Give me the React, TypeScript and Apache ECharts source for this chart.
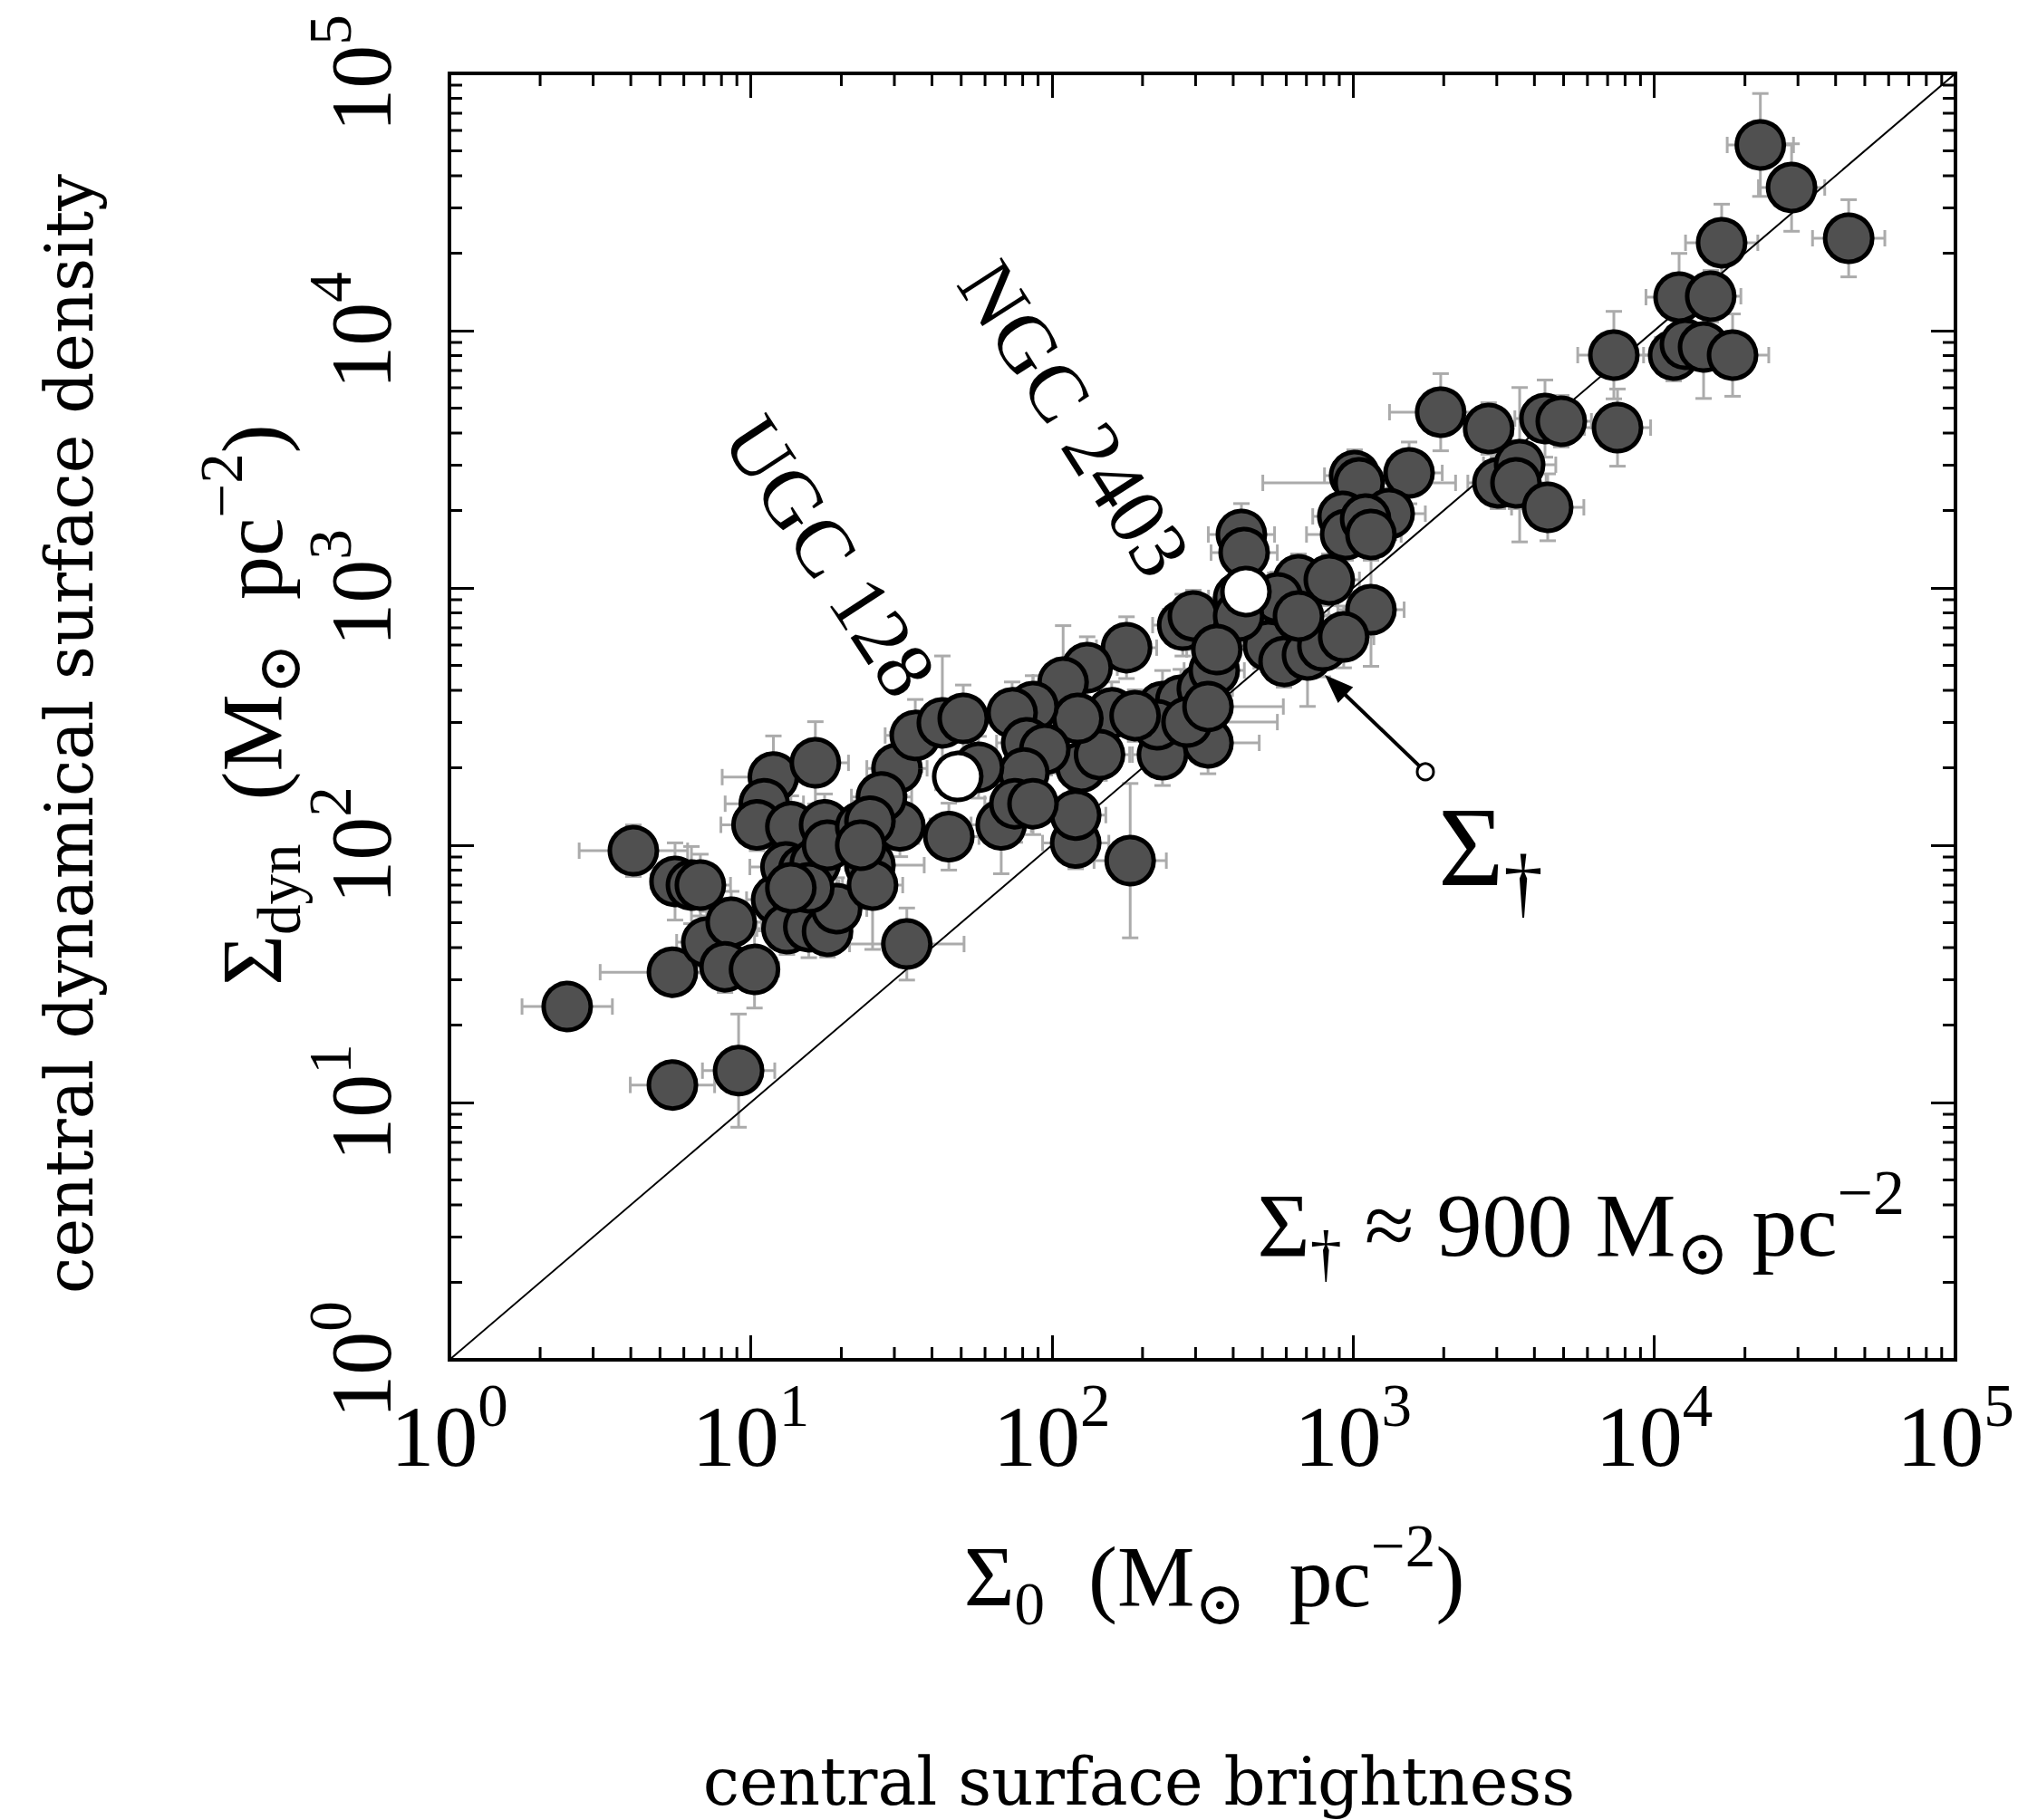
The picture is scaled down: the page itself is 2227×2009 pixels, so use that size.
import React, { useEffect, useRef } from "react";
import * as echarts from "echarts";

// ---------- axis definitions ----------
const AXIS_MIN = 1;
const AXIS_MAX = 100000;
const MINOR_MULTIPLIERS = [2, 3, 4, 5, 6, 7, 8, 9];
const DECADES = [1, 10, 100, 1000, 10000];

// ---------- data (central surface brightness Σ0 vs central dynamical surface density Σdyn) ----------
const SIGMA_0 = [
  2.46, 5.5, 9.12, 4.08, 5.5, 5.61, 6.36, 6.81, 7.15, 8.62,
  8.22, 10.3, 33.0, 11.9, 16.4, 11.1, 10.5, 12.2, 13.2, 15.6,
  18.0, 19.3, 13.6, 17.6, 13.1, 15.0, 16.4, 15.6, 13.6, 18.0,
  24.9, 25.4, 23.2, 30.6, 31.3, 27.2, 24.9, 35.2, 43.3, 50.8,
  45.5, 23.2, 67.9, 120, 120, 182, 177, 131, 109, 158,
  125, 144, 122, 86.6, 73.8, 82.5, 94.8, 80.8, 75.4, 86.6,
  57.1, 272, 295, 233, 268, 316, 346, 330, 233, 224,
  281, 189, 417, 1954, 2820, 4337, 4913, 7343, 7550, 3027,
  3573, 3475, 4428, 1535, 1012, 1048, 1318, 925, 945, 1101,
  1147, 426, 435, 659, 834, 1147, 562, 524, 590, 706,
  794, 931, 659, 417, 353, 330, 22500, 28570, 44200, 16740,
  12090, 15400, 11600, 12690, 14580, 18200,
];
const SIGMA_DYN = [
  23.6, 11.7, 13.3, 95.2, 32.1, 72.3, 70.0, 70.0, 42.0, 50.2,
  33.7, 32.9, 41.3, 184, 209, 145, 120, 61.5, 47.4, 48.2,
  46.3, 56.7, 118, 120, 82.3, 80.3, 85.0, 68.3, 68.3, 100,
  83.7, 70.0, 118, 199, 119, 154, 124, 267, 299, 311,
  108, 100, 120, 102, 131, 87.1, 586, 490, 430, 327,
  201, 225, 311, 346, 327, 250, 236, 191, 145, 145,
  201, 717, 778, 346, 366, 406, 478, 250, 225, 294,
  301, 319, 915, 4820, 4166, 4553, 4446, 8035, 4200, 2561,
  3013, 2561, 2058, 2800, 2734, 2561, 1944, 1897, 1614, 1852,
  1614, 1614, 1372, 1076, 1076, 823, 915, 595, 518, 549,
  595, 645, 778, 778, 576, 346, 52700, 36000, 22860, 21960,
  13500, 13610, 8035, 8850, 8640, 8035,
];
// symmetric uncertainties in dex
const X_ERR_DEX = [
  0.15, 0.14, 0.12, 0.18, 0.24, 0.08, 0.1, 0.1, 0.1, 0.1,
  0.1, 0.08, 0.19, 0.17, 0.11, 0.13, 0.12, 0.1, 0.1, 0.1,
  0.08, 0.1, 0.1, 0.1, 0.12, 0.1, 0.1, 0.1, 0.1, 0.12,
  0.18, 0.1, 0.1, 0.1, 0.1, 0.1, 0.1, 0.1, 0.1, 0.1,
  0.1, 0.1, 0.1, 0.11, 0.1, 0.12, 0.1, 0.1, 0.1, 0.1,
  0.1, 0.1, 0.1, 0.1, 0.12, 0.1, 0.1, 0.12, 0.1, 0.14,
  0.1, 0.1, 0.1, 0.1, 0.1, 0.1, 0.1, 0.17, 0.1, 0.1,
  0.3, 0.1, 0.1, 0.17, 0.08, 0.1, 0.1, 0.12, 0.11, 0.1,
  0.12, 0.1, 0.12, 0.11, 0.1, 0.32, 0.12, 0.1, 0.13, 0.1,
  0.1, 0.11, 0.11, 0.1, 0.1, 0.11, 0.1, 0.1, 0.1, 0.1,
  0.1, 0.1, 0.1, 0.1, 0.1, 0.25, 0.11, 0.11, 0.12, 0.12,
  0.11, 0.1, 0.1, 0.1, 0.12, 0.12,
];
const Y_ERR_DEX = [
  0.06, 0.06, 0.22, 0.1, 0.08, 0.15, 0.15, 0.12, 0.12, 0.12,
  0.1, 0.15, 0.14, 0.16, 0.16, 0.1, 0.1, 0.12, 0.1, 0.12,
  0.1, 0.12, 0.12, 0.12, 0.1, 0.1, 0.1, 0.14, 0.1, 0.1,
  0.12, 0.25, 0.1, 0.14, 0.12, 0.1, 0.1, 0.14, 0.26, 0.13,
  0.13, 0.1, 0.19, 0.1, 0.1, 0.3, 0.12, 0.12, 0.22, 0.12,
  0.12, 0.1, 0.12, 0.12, 0.12, 0.1, 0.1, 0.12, 0.15, 0.12,
  0.12, 0.12, 0.1, 0.14, 0.12, 0.1, 0.1, 0.12, 0.12, 0.12,
  0.12, 0.1, 0.12, 0.15, 0.1, 0.15, 0.1, 0.17, 0.15, 0.1,
  0.3, 0.1, 0.13, 0.12, 0.1, 0.1, 0.1, 0.1, 0.1, 0.1,
  0.1, 0.12, 0.1, 0.1, 0.1, 0.22, 0.1, 0.1, 0.1, 0.2,
  0.12, 0.12, 0.1, 0.1, 0.1, 0.1, 0.2, 0.17, 0.15, 0.15,
  0.17, 0.1, 0.1, 0.1, 0.2, 0.16,
];

const NAMED_GALAXIES = ["UGC 128", "NGC 2403"];
const NAMED_SIGMA_0 = [48.7, 441];
const NAMED_SIGMA_DYN = [185, 968];

const ONE_TO_ONE_X = [1, 100000];
const ONE_TO_ONE_Y = [1, 100000];

// annotation anchors (data coordinates)
const ARROW_TAIL = [1738, 193];
const ARROW_HEAD = [805, 459];

// ---------- styling ----------
const MATH_FONT = "'Liberation Serif', 'DejaVu Serif', serif";
const TEXT_FONT = "'DejaVu Serif', serif";
const MAJOR_LEN = 27;
const MINOR_LEN = 14;
const TICK_W = 3;
const LABEL_SIZE = 96;

function mathRich(size: number) {
  const small = Math.round(size * 0.7);
  return {
    m: { fontFamily: MATH_FONT, fontSize: size, lineHeight: size, color: "#000", verticalAlign: "middle" },
    sb: {
      fontFamily: MATH_FONT,
      fontSize: small,
      lineHeight: 10,
      color: "#000",
      verticalAlign: "middle",
      padding: [Math.round(size * 0.62), 0, 0, 0],
    },
    sp: {
      fontFamily: MATH_FONT,
      fontSize: small,
      lineHeight: 10,
      color: "#000",
      verticalAlign: "middle",
      padding: [0, 0, Math.round(size * 0.72), 0],
    },
  };
}

const labelRich = mathRich(LABEL_SIZE);

function tickFormatter(v: number) {
  const e = Math.round(Math.log10(v));
  return `{m|10}{sp|${e}}`;
}

export default function App() {
  const ref = useRef<HTMLDivElement>(null);

  useEffect(() => {
    const el = ref.current;
    if (!el) return;
    const chart = echarts.init(el, null, { renderer: "svg" });

    const minorTicks: number[] = [];
    DECADES.forEach((d) => MINOR_MULTIPLIERS.forEach((m) => minorTicks.push(m * d)));

    const points = SIGMA_0.map((x, i) => [x, SIGMA_DYN[i]]);
    const errRows = SIGMA_0.map((x, i) => [x, SIGMA_DYN[i], X_ERR_DEX[i], Y_ERR_DEX[i]]);
    const named = NAMED_SIGMA_0.map((x, i) => ({ name: NAMED_GALAXIES[i], value: [x, NAMED_SIGMA_DYN[i]] }));

    const axisLine = { show: true, onZero: false, lineStyle: { color: "#000", width: 4, cap: "square" } };
    const axisTick = { show: true, inside: true, length: MAJOR_LEN, lineStyle: { color: "#000", width: TICK_W } };

    const baseAxis = {
      type: "log",
      logBase: 10,
      min: AXIS_MIN,
      max: AXIS_MAX,
      axisLine,
      axisTick,
      splitLine: { show: false },
      minorTick: { show: false },
    };

    const errStyle = { stroke: "#ababab", lineWidth: 3 };
    const cap = 9;

    chart.setOption({
      animation: false,
      backgroundColor: "#fff",
      grid: { left: 496, top: 81, width: 1662, height: 1420, containLabel: false },
      xAxis: [
        {
          ...baseAxis,
          position: "bottom",
          axisLabel: { show: true, formatter: tickFormatter, rich: labelRich, margin: 36 },
        },
        { ...baseAxis, position: "top", axisLabel: { show: false } },
      ],
      yAxis: [
        {
          ...baseAxis,
          position: "left",
          axisLabel: { show: true, formatter: tickFormatter, rich: labelRich, margin: 50, rotate: 90 },
        },
        { ...baseAxis, position: "right", axisLabel: { show: false } },
      ],
      series: [
        {
          type: "custom",
          name: "errors",
          silent: true,
          z: 1,
          dimensions: ["x", "y", "xe", "ye"],
          encode: { x: 0, y: 1 },
          data: errRows,
          renderItem: (params: any, api: any) => {
            const x = api.value(0);
            const y = api.value(1);
            const fx = Math.pow(10, api.value(2));
            const fy = Math.pow(10, api.value(3));
            const l = api.coord([x / fx, y]);
            const r = api.coord([x * fx, y]);
            const t = api.coord([x, y * fy]);
            const b = api.coord([x, y / fy]);
            return {
              type: "group",
              children: [
                { type: "line", shape: { x1: l[0], y1: l[1], x2: r[0], y2: r[1] }, style: errStyle },
                { type: "line", shape: { x1: l[0], y1: l[1] - cap, x2: l[0], y2: l[1] + cap }, style: errStyle },
                { type: "line", shape: { x1: r[0], y1: r[1] - cap, x2: r[0], y2: r[1] + cap }, style: errStyle },
                { type: "line", shape: { x1: t[0], y1: t[1], x2: b[0], y2: b[1] }, style: errStyle },
                { type: "line", shape: { x1: t[0] - cap, y1: t[1], x2: t[0] + cap, y2: t[1] }, style: errStyle },
                { type: "line", shape: { x1: b[0] - cap, y1: b[1], x2: b[0] + cap, y2: b[1] }, style: errStyle },
              ],
            };
          },
        },
        {
          type: "line",
          name: "one-to-one",
          silent: true,
          z: 2,
          symbol: "none",
          data: ONE_TO_ONE_X.map((x, i) => [x, ONE_TO_ONE_Y[i]]),
          lineStyle: { color: "#000", width: 2 },
        },
        {
          type: "scatter",
          name: "galaxies",
          silent: true,
          z: 3,
          symbol: "circle",
          symbolSize: 52,
          data: points,
          itemStyle: { color: "#505050", borderColor: "#000", borderWidth: 5, opacity: 1 },
        },
        {
          type: "scatter",
          name: "named",
          silent: true,
          z: 4,
          symbol: "circle",
          symbolSize: 52,
          data: named,
          itemStyle: { color: "#fff", borderColor: "#000", borderWidth: 5, opacity: 1 },
        },
        {
          type: "custom",
          name: "minorX",
          silent: true,
          z: 6,
          encode: { x: 0, y: 1 },
          data: minorTicks.map((v) => [v, AXIS_MIN]),
          renderItem: (params: any, api: any) => {
            const v = api.value(0);
            const b = api.coord([v, AXIS_MIN]);
            const t = api.coord([v, AXIS_MAX]);
            const st = { stroke: "#000", lineWidth: TICK_W };
            return {
              type: "group",
              children: [
                { type: "line", shape: { x1: b[0], y1: b[1], x2: b[0], y2: b[1] - MINOR_LEN }, style: st },
                { type: "line", shape: { x1: t[0], y1: t[1], x2: t[0], y2: t[1] + MINOR_LEN }, style: st },
              ],
            };
          },
        },
        {
          type: "custom",
          name: "minorY",
          silent: true,
          z: 6,
          encode: { x: 0, y: 1 },
          data: minorTicks.map((v) => [AXIS_MIN, v]),
          renderItem: (params: any, api: any) => {
            const v = api.value(1);
            const l = api.coord([AXIS_MIN, v]);
            const r = api.coord([AXIS_MAX, v]);
            const st = { stroke: "#000", lineWidth: TICK_W };
            return {
              type: "group",
              children: [
                { type: "line", shape: { x1: l[0], y1: l[1], x2: l[0] + MINOR_LEN, y2: l[1] }, style: st },
                { type: "line", shape: { x1: r[0], y1: r[1], x2: r[0] - MINOR_LEN, y2: r[1] }, style: st },
              ],
            };
          },
        },
      ],
    });

    const tail = chart.convertToPixel({ gridIndex: 0 }, ARROW_TAIL) as number[];
    const head = chart.convertToPixel({ gridIndex: 0 }, ARROW_HEAD) as number[];
    const dx = head[0] - tail[0];
    const dy = head[1] - tail[1];
    const len = Math.sqrt(dx * dx + dy * dy);
    const ux = dx / len;
    const uy = dy / len;
    const nx = -uy;
    const ny = ux;
    const AH_L = 32;
    const AH_W = 24;
    const baseX = head[0] - ux * AH_L;
    const baseY = head[1] - uy * AH_L;
    const tailR = 9;

    chart.setOption({
      graphic: [
        {
          type: "text",
          x: 77,
          y: 810,
          rotation: Math.PI / 2,
          style: {
            text: "central dynamical surface density",
            fontFamily: TEXT_FONT,
            fontSize: 72,
            fill: "#000",
            align: "center",
            verticalAlign: "middle",
          },
        },
        {
          type: "text",
          x: 1257,
          y: 1967,
          style: {
            text: "central surface brightness",
            fontFamily: TEXT_FONT,
            fontSize: 72,
            fill: "#000",
            align: "center",
            verticalAlign: "middle",
          },
        },
        {
          type: "text",
          x: 278,
          y: 778,
          rotation: Math.PI / 2,
          style: {
            text: "{m|Σ}{sb|dyn}{m|  (M}{sb|⊙}{m|  pc}{sp|−2}{m|)}",
            rich: mathRich(LABEL_SIZE),
            align: "center",
            verticalAlign: "middle",
          },
        },
        {
          type: "text",
          x: 1340,
          y: 1740,
          style: {
            text: "{m|Σ}{sb|0}{m|  (M}{sb|⊙}{m|  pc}{sp|−2}{m|)}",
            rich: mathRich(LABEL_SIZE),
            align: "center",
            verticalAlign: "middle",
          },
        },
        {
          type: "text",
          x: 2102,
          y: 1352,
          style: {
            text: "{m|Σ}{sb|†}{m| ≈ 900 M}{sb|⊙}{m| pc}{sp|−2}",
            rich: mathRich(100),
            align: "right",
            verticalAlign: "middle",
          },
        },
        {
          type: "text",
          x: 1645,
          y: 935,
          style: {
            text: "{m|Σ}{sb|†}",
            rich: mathRich(124),
            align: "center",
            verticalAlign: "middle",
          },
        },
        {
          type: "text",
          x: 916,
          y: 614,
          rotation: -0.99,
          style: {
            text: NAMED_GALAXIES[0],
            fontFamily: MATH_FONT,
            fontSize: 90,
            fill: "#000",
            align: "center",
            verticalAlign: "middle",
          },
        },
        {
          type: "text",
          x: 1186,
          y: 462,
          rotation: -1.0,
          style: {
            text: NAMED_GALAXIES[1],
            fontFamily: MATH_FONT,
            fontSize: 90,
            fill: "#000",
            align: "center",
            verticalAlign: "middle",
          },
        },
        {
          type: "line",
          z: 10,
          shape: { x1: tail[0] + ux * tailR, y1: tail[1] + uy * tailR, x2: baseX + ux * 4, y2: baseY + uy * 4 },
          style: { stroke: "#000", lineWidth: 4 },
        },
        {
          type: "polygon",
          z: 10,
          shape: {
            points: [
              [head[0], head[1]],
              [baseX + nx * AH_W / 2, baseY + ny * AH_W / 2],
              [baseX - nx * AH_W / 2, baseY - ny * AH_W / 2],
            ],
          },
          style: { fill: "#000" },
        },
        {
          type: "circle",
          z: 10,
          shape: { cx: tail[0], cy: tail[1], r: tailR },
          style: { fill: "#fff", stroke: "#000", lineWidth: 3 },
        },
      ],
    });

    return () => chart.dispose();
  }, []);

  return (
    <div
      ref={ref}
      style={{ position: "absolute", left: 0, top: 0, width: 2227, height: 2009, background: "#fff" }}
    />
  );
}
